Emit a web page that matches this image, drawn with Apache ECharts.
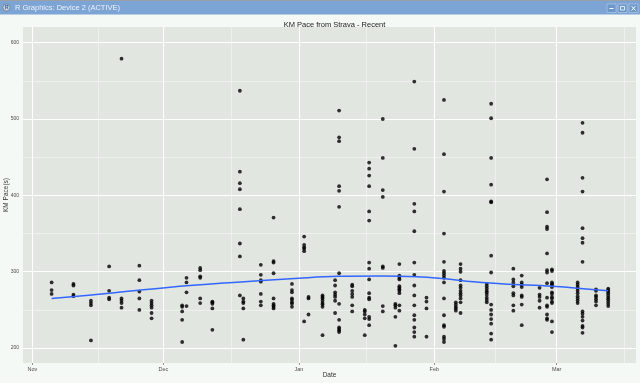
<!DOCTYPE html>
<html>
<head>
<meta charset="utf-8">
<script src="https://cdn.jsdelivr.net/npm/echarts@6/dist/echarts.min.js"></script>
<style>
  html, body { margin: 0; padding: 0; background: #f5f9f5; }
  #chart { width: 640px; height: 383px; }
</style>
</head>
<body>
<div id="chart"></div>
<script>
// ---- data ----
const windowTitle = 'R Graphics: Device 2 (ACTIVE)';
const chartTitle = 'KM Pace from Strava - Recent';
const xTitle = 'Date';
const yTitle = 'KM Pace(s)';
const originDate = '2014-11-01 00:00';
const monthBreaks = ['2014-11-01 00:00', '2014-12-01 00:00', '2015-01-01 00:00', '2015-02-01 00:00', '2015-03-01 00:00'];
const monthLabels = ['Nov', 'Dec', 'Jan', 'Feb', 'Mar'];
const monthMinorBreaks = ['2014-11-16 00:00', '2014-12-16 12:00', '2015-01-16 12:00', '2015-02-15 00:00', '2015-03-16 12:00'];
const yTicks = [200, 300, 400, 500, 600];
const yMinorTicks = [250, 350, 450, 550];

const runDates = [
  '2014-11-05 10:00', '2014-11-10 10:00', '2014-11-14 10:00', '2014-11-18 14:00', '2014-11-21 10:00',
  '2014-11-25 12:00', '2014-11-28 07:00', '2014-12-05 07:00', '2014-12-06 07:00', '2014-12-09 10:00',
  '2014-12-12 05:00', '2014-12-18 12:00', '2014-12-19 07:00', '2014-12-23 07:00', '2014-12-26 05:00',
  '2014-12-30 10:00', '2015-01-02 05:00', '2015-01-03 05:00', '2015-01-06 10:00', '2015-01-09 07:00',
  '2015-01-10 05:00', '2015-01-13 05:00', '2015-01-16 02:00', '2015-01-17 02:00', '2015-01-20 05:00',
  '2015-01-23 02:00', '2015-01-24 00:00', '2015-01-27 10:00', '2015-01-30 05:00', '2015-02-03 05:00',
  '2015-02-05 22:00', '2015-02-07 00:00', '2015-02-13 00:00', '2015-02-14 00:00', '2015-02-19 02:00',
  '2015-02-21 00:00', '2015-02-25 02:00', '2015-02-26 19:00', '2015-02-27 22:00', '2015-03-05 19:00',
  '2015-03-06 22:00', '2015-03-10 00:00', '2015-03-12 19:00'
];
const runPaces = [
  [286, 276, 271],
  [284, 282, 270, 268],
  [262, 259, 256, 210],
  [307, 275, 266, 264],
  [579, 265, 262, 259, 253],
  [308, 289, 274, 265, 250],
  [262, 259, 256, 253, 246, 239],
  [256, 254, 248, 237, 208],
  [292, 286, 273, 255],
  [305, 302, 294, 292, 265, 259],
  [261, 260, 258, 252, 224],
  [537, 431, 416, 408, 382, 337, 320, 269],
  [265, 261, 259, 252, 211],
  [309, 296, 289, 287, 271, 261, 256],
  [371, 314, 312, 298, 265, 258, 256, 254, 252],
  [284, 276, 273, 265, 263, 260, 258, 254],
  [346, 335, 332, 330, 327, 235],
  [267, 265, 244],
  [269, 267, 265, 262, 259, 257, 254, 217],
  [289, 282, 273, 270, 267, 262, 246],
  [511, 476, 471, 412, 406, 385, 298, 258, 237, 227, 225, 223, 221],
  [283, 281, 275, 271, 267, 256, 248],
  [250, 248, 244, 239, 217],
  [443, 435, 426, 412, 379, 367, 312, 304, 290, 272, 266, 264, 241, 238, 230],
  [500, 449, 407, 398, 307, 305, 255, 248],
  [258, 256, 253, 241, 203],
  [310, 295, 292, 290, 281, 279, 277, 275, 272, 256, 249],
  [549, 461, 389, 379, 353, 312, 296, 282, 269, 256, 243, 237, 227, 221, 215],
  [266, 261, 252, 215],
  [525, 454, 405, 350, 313, 301, 298, 295, 292, 286, 265, 243, 230, 228, 215, 212, 208],
  [260, 257, 254, 252, 249],
  [310, 304, 300, 289, 282, 279, 275, 272, 269, 265, 260, 246],
  [284, 281, 278, 275, 273, 270, 266, 263, 260],
  [520, 501, 449, 414, 392, 391, 321, 299, 257, 250, 244, 238, 232, 219, 211],
  [304, 290, 286, 281, 272, 269, 256, 249],
  [295, 286, 283, 280, 269, 267, 257, 230],
  [279, 270, 267, 262, 253],
  [421, 378, 359, 356, 324, 302, 299, 285, 266, 256, 254, 244, 239, 237],
  [303, 301, 286, 284, 283, 280, 273, 271, 267, 265, 261, 259, 235, 221],
  [286, 283, 280, 278, 275, 272, 268, 265, 262, 259],
  [495, 482, 423, 405, 357, 344, 338, 313, 248, 245, 241, 236, 229, 227, 220],
  [277, 275, 269, 267, 264, 261, 256],
  [278, 276, 274, 272, 269, 266, 264, 261, 258, 255]
];

const smoothDates = [
  '2014-11-05 10:00', '2014-11-18 00:00', '2014-12-02 00:00', '2014-12-17 00:00', '2015-01-01 00:00',
  '2015-01-10 00:00', '2015-01-20 00:00', '2015-01-28 00:00', '2015-02-03 00:00', '2015-02-10 00:00',
  '2015-02-17 00:00', '2015-02-28 00:00', '2015-03-12 19:00'
];
const smoothPace = [265, 271.5, 279.5, 286, 291.5, 294, 294.5, 293.5, 291, 287, 284, 281, 275];

// ---- helpers: date string -> days since origin ----
function toMs(s) {
  const [d, t] = s.split(' ');
  const [y, m, dd] = d.split('-').map(Number);
  const [hh, mm] = (t || '00:00').split(':').map(Number);
  return Date.UTC(y, m - 1, dd, hh, mm);
}
const t0 = toMs(originDate);
const toDay = s => (toMs(s) - t0) / 86400000;

const monthPos = monthBreaks.map(toDay);
const minorPos = monthMinorBreaks.map(toDay);

const points = [];
runDates.forEach((d, i) => runPaces[i].forEach(v => points.push([toDay(d), v])));
const smoothData = smoothDates.map((d, i) => [toDay(d), smoothPace[i]]);

const FONT = 'Liberation Sans, Arial, sans-serif';

const chart = echarts.init(document.getElementById('chart'), null, { renderer: 'canvas' });

const gridLines = [];
monthPos.forEach(x => gridLines.push({ xAxis: x, lineStyle: { color: '#ffffff', width: 1.1, type: 'solid' } }));
minorPos.forEach(x => gridLines.push({ xAxis: x, lineStyle: { color: 'rgba(255,255,255,0.6)', width: 0.7, type: 'solid' } }));
yTicks.forEach(y => gridLines.push({ yAxis: y, lineStyle: { color: '#ffffff', width: 1.1, type: 'solid' } }));
yMinorTicks.forEach(y => gridLines.push({ yAxis: y, lineStyle: { color: 'rgba(255,255,255,0.6)', width: 0.7, type: 'solid' } }));

chart.setOption({
  animation: false,
  backgroundColor: '#f5f9f5',
  title: {
    text: chartTitle,
    left: 329.5,
    textAlign: 'center',
    top: 16,
    textStyle: { fontFamily: FONT, fontSize: 7.5, fontWeight: 'normal', color: '#1a1a1a' }
  },
  grid: {
    left: 23, right: 4, top: 27, bottom: 20,
    outerBoundsMode: 'none',
    containLabel: false,
    show: true, backgroundColor: '#e2e6e0', borderWidth: 0
  },
  xAxis: {
    type: 'value',
    min: -2.13, max: 138.15,
    name: xTitle,
    nameLocation: 'middle',
    nameGap: 9,
    nameMoveOverlap: false,
    nameTextStyle: { fontFamily: FONT, fontSize: 6.5, color: '#333333' },
    axisLine: { show: false },
    splitLine: { show: false },
    axisTick: { show: true, length: 2, customValues: monthPos, lineStyle: { color: '#4d4d4d', width: 0.6 } },
    axisLabel: {
      customValues: monthPos,
      margin: 3,
      fontFamily: FONT, fontSize: 5.5, color: '#4d4d4d',
      formatter: v => {
        const i = monthPos.findIndex(p => Math.abs(p - v) < 1e-6);
        return i >= 0 ? monthLabels[i] : '';
      }
    }
  },
  yAxis: {
    type: 'value',
    min: 180.5, max: 620.5,
    name: yTitle,
    nameLocation: 'middle',
    nameGap: 13,
    nameRotate: 90,
    nameMoveOverlap: false,
    nameTextStyle: { fontFamily: FONT, fontSize: 6.5, color: '#333333' },
    axisLine: { show: false },
    splitLine: { show: false },
    axisTick: { show: true, length: 2, customValues: yTicks, lineStyle: { color: '#4d4d4d', width: 0.6 } },
    axisLabel: {
      customValues: yTicks,
      margin: 4,
      fontFamily: FONT, fontSize: 5, color: '#4d4d4d'
    }
  },
  graphic: [
    { type: 'rect', shape: { x: 0, y: 0, width: 640, height: 1 }, style: { fill: '#9aa0a6' }, z: 100 },
    { type: 'rect', shape: { x: 0, y: 1, width: 640, height: 13.5 }, style: { fill: '#7ca4d4' }, z: 100 },
    { type: 'circle', shape: { cx: 6.5, cy: 7.5, r: 3.6 }, style: { fill: '#c9ced6', stroke: '#5a6a80', lineWidth: 0.6 }, z: 101 },
    { type: 'text', style: { x: 5, y: 7.7, text: 'R', fill: '#2a5ea8', font: 'bold 5px ' + FONT, verticalAlign: 'middle' }, z: 102 },
    { type: 'text', style: { x: 15, y: 7.8, text: windowTitle, fill: '#eef2f8', font: '7.5px ' + FONT, verticalAlign: 'middle' }, z: 101 },
    { type: 'rect', shape: { x: 607, y: 4, width: 9, height: 8.5 }, style: { fill: '#6d96c9', stroke: '#a9c3e6', lineWidth: 0.8 }, z: 101 },
    { type: 'rect', shape: { x: 618, y: 4, width: 9, height: 8.5 }, style: { fill: '#6d96c9', stroke: '#a9c3e6', lineWidth: 0.8 }, z: 101 },
    { type: 'rect', shape: { x: 629, y: 4, width: 9, height: 8.5 }, style: { fill: '#6d96c9', stroke: '#a9c3e6', lineWidth: 0.8 }, z: 101 },
    { type: 'line', shape: { x1: 609.5, y1: 8.5, x2: 613.5, y2: 8.5 }, style: { stroke: '#ffffff', lineWidth: 1 }, z: 102 },
    { type: 'rect', shape: { x: 620.5, y: 6.5, width: 4, height: 3.5 }, style: { fill: 'none', stroke: '#ffffff', lineWidth: 0.8 }, z: 102 },
    { type: 'line', shape: { x1: 631.5, y1: 6, x2: 635.5, y2: 10.5 }, style: { stroke: '#ffffff', lineWidth: 1 }, z: 102 },
    { type: 'line', shape: { x1: 635.5, y1: 6, x2: 631.5, y2: 10.5 }, style: { stroke: '#ffffff', lineWidth: 1 }, z: 102 }
  ],
  series: [
    {
      type: 'line',
      data: [],
      silent: true,
      z: 1,
      markLine: {
        silent: true,
        symbol: ['none', 'none'],
        label: { show: false },
        emphasis: { disabled: true },
        animation: false,
        z: 1,
        data: gridLines
      }
    },
    {
      type: 'scatter',
      data: points,
      symbol: 'circle',
      symbolSize: 3.8,
      itemStyle: { color: '#000000' },
      silent: true,
      z: 10
    },
    {
      type: 'line',
      data: smoothData,
      smooth: 0.4,
      showSymbol: false,
      symbol: 'none',
      lineStyle: { color: '#3366ff', width: 1.5 },
      silent: true,
      z: 11
    }
  ]
});
</script>
</body>
</html>
